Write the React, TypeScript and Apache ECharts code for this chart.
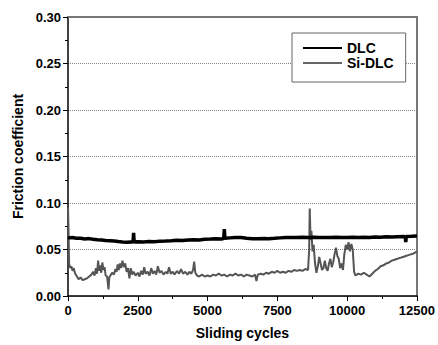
import React, { useEffect, useRef } from "react";
import * as echarts from "echarts";

const seriesNames = ["DLC", "Si-DLC"];
const xTicks = [0, 2500, 5000, 7500, 10000, 12500];
const yTicks = [0, 0.05, 0.1, 0.15, 0.2, 0.25, 0.3];

const dlcData: [number, number][] = [
  [0, 0.063], [50, 0.0625], [150, 0.063], [300, 0.0622], [450, 0.062], [600, 0.0614], [750, 0.0617],
  [900, 0.061], [1050, 0.0604], [1200, 0.0601], [1350, 0.0597], [1500, 0.0594], [1650, 0.0591],
  [1800, 0.0585], [1950, 0.058], [2100, 0.0577], [2250, 0.0581], [2330, 0.058], [2350, 0.068],
  [2370, 0.058], [2500, 0.0584], [2700, 0.058], [2900, 0.0587], [3100, 0.0584], [3300, 0.059],
  [3500, 0.0592], [3700, 0.0595], [3900, 0.06], [4100, 0.0598], [4300, 0.0602], [4500, 0.0605],
  [4700, 0.0603], [4900, 0.061], [5100, 0.0612], [5300, 0.0615], [5500, 0.0612], [5580, 0.062],
  [5600, 0.072], [5620, 0.062], [5800, 0.0625], [6000, 0.0628], [6200, 0.063], [6400, 0.0622],
  [6600, 0.0616], [6800, 0.0615], [7000, 0.0618], [7200, 0.0616], [7400, 0.062], [7600, 0.0625],
  [7800, 0.0628], [8000, 0.063], [8200, 0.0628], [8400, 0.0632], [8600, 0.063], [8800, 0.0633],
  [9000, 0.063], [9200, 0.0628], [9400, 0.063], [9600, 0.0632], [9800, 0.0628], [10000, 0.063],
  [10200, 0.0633], [10400, 0.063], [10600, 0.0632], [10800, 0.063], [11000, 0.0635], [11200, 0.0633],
  [11400, 0.0636], [11600, 0.0634], [11800, 0.0638], [12000, 0.064], [12080, 0.0638], [12100, 0.058],
  [12120, 0.064], [12300, 0.0642], [12500, 0.0645],
];

const siDlcData: [number, number][] = [
  [0, 0.095], [20, 0.07], [40, 0.035], [80, 0.03], [120, 0.032], [160, 0.027], [200, 0.03],
  [260, 0.024], [320, 0.021], [380, 0.018], [450, 0.02], [520, 0.017], [600, 0.018], [680, 0.019],
  [760, 0.021], [840, 0.023], [900, 0.026], [950, 0.022], [1000, 0.03], [1040, 0.024], [1080, 0.038],
  [1110, 0.027], [1150, 0.033], [1190, 0.025], [1230, 0.036], [1270, 0.028], [1310, 0.031],
  [1350, 0.022], [1400, 0.021], [1450, 0.007], [1480, 0.02], [1520, 0.022], [1580, 0.025],
  [1640, 0.023], [1700, 0.029], [1740, 0.026], [1780, 0.034], [1820, 0.028], [1860, 0.035],
  [1900, 0.03], [1950, 0.038], [2000, 0.031], [2050, 0.035], [2100, 0.026], [2150, 0.03],
  [2200, 0.019], [2250, 0.03], [2300, 0.023], [2350, 0.026], [2420, 0.022], [2500, 0.025],
  [2560, 0.021], [2620, 0.027], [2680, 0.023], [2730, 0.031], [2780, 0.024], [2850, 0.026],
  [2920, 0.022], [2980, 0.03], [3040, 0.024], [3100, 0.027], [3160, 0.023], [3220, 0.032],
  [3280, 0.025], [3350, 0.027], [3420, 0.023], [3500, 0.026], [3560, 0.024], [3620, 0.031],
  [3680, 0.024], [3750, 0.026], [3820, 0.023], [3900, 0.027], [3980, 0.024], [4050, 0.029],
  [4120, 0.024], [4200, 0.026], [4280, 0.023], [4350, 0.026], [4420, 0.024], [4480, 0.028],
  [4520, 0.037], [4560, 0.025], [4620, 0.022], [4700, 0.021], [4800, 0.023], [4900, 0.021],
  [5000, 0.022], [5100, 0.021], [5200, 0.023], [5300, 0.022], [5400, 0.024], [5500, 0.022],
  [5600, 0.023], [5700, 0.021], [5800, 0.023], [5900, 0.022], [6000, 0.024], [6100, 0.022],
  [6200, 0.023], [6300, 0.021], [6400, 0.023], [6500, 0.022], [6600, 0.021], [6700, 0.023],
  [6750, 0.016], [6800, 0.023], [6900, 0.024], [7000, 0.023], [7100, 0.025], [7200, 0.024],
  [7300, 0.026], [7400, 0.025], [7500, 0.027], [7600, 0.025], [7700, 0.026], [7800, 0.025],
  [7900, 0.027], [8000, 0.026], [8100, 0.028], [8200, 0.027], [8300, 0.028], [8400, 0.027],
  [8500, 0.029], [8600, 0.028], [8640, 0.05], [8660, 0.094], [8690, 0.06], [8720, 0.07],
  [8760, 0.048], [8800, 0.055], [8850, 0.035], [8900, 0.025], [8950, 0.032], [9000, 0.042],
  [9050, 0.035], [9100, 0.028], [9150, 0.03], [9200, 0.038], [9250, 0.03], [9300, 0.027],
  [9350, 0.035], [9400, 0.04], [9450, 0.031], [9500, 0.036], [9550, 0.045], [9600, 0.052],
  [9650, 0.043], [9700, 0.04], [9750, 0.03], [9800, 0.035], [9850, 0.028], [9900, 0.045],
  [9950, 0.055], [10000, 0.05], [10050, 0.058], [10100, 0.048], [10150, 0.056], [10200, 0.05],
  [10250, 0.026], [10300, 0.022], [10400, 0.024], [10500, 0.023], [10600, 0.025], [10700, 0.023],
  [10800, 0.021], [10900, 0.024], [11000, 0.027], [11100, 0.029], [11200, 0.032], [11300, 0.033],
  [11400, 0.035], [11500, 0.036], [11600, 0.038], [11700, 0.039], [11800, 0.04], [11900, 0.041],
  [12000, 0.042], [12100, 0.043], [12200, 0.044], [12300, 0.045], [12400, 0.046], [12500, 0.048],
];

const FONT = "'Liberation Sans', Arial, sans-serif";

export default function App() {
  const ref = useRef<HTMLDivElement>(null);
  useEffect(() => {
    if (!ref.current) return;
    const chart = echarts.init(ref.current, undefined, { renderer: "svg" });
    const labelStyle = { color: "#000", fontWeight: "bold" as const, fontSize: 13, fontFamily: FONT };
    chart.setOption({
      animation: false,
      backgroundColor: "#fff",
      grid: { left: 68, right: 20, top: 17, bottom: 43, containLabel: false },
      legend: {
        left: 292,
        top: 33,
        orient: "vertical",
        backgroundColor: "#fff",
        borderColor: "#666",
        borderWidth: 1,
        borderRadius: 0,
        padding: [8, 12, 12, 11],
        itemGap: 1,
        itemWidth: 39,
        itemHeight: 2,
        textStyle: { color: "#000", fontWeight: "bold", fontSize: 14, fontFamily: FONT, lineHeight: 14 },
        data: [
          { name: seriesNames[0], icon: "rect", itemStyle: { color: "#000" } },
          { name: seriesNames[1], icon: "rect", itemStyle: { color: "#666" } },
        ],
      },
      xAxis: [
        {
          type: "value",
          min: xTicks[0],
          max: xTicks[xTicks.length - 1],
          interval: 2500,
          name: "Sliding cycles",
          nameLocation: "middle",
          nameGap: 30,
          nameTextStyle: { color: "#000", fontWeight: "bold", fontSize: 14, fontFamily: FONT },
          axisLine: { show: true, onZero: false, lineStyle: { color: "#000", width: 1.5 } },
          axisTick: { show: true, inside: false, length: 5, lineStyle: { color: "#000", width: 1 } },
          minorTick: { show: true, splitNumber: 2, length: 3, lineStyle: { color: "#000", width: 1 } },
          axisLabel: { ...labelStyle, margin: 8, formatter: (v: number) => String(v) },
          splitLine: { show: false },
        },
        {
          type: "value",
          position: "top",
          min: xTicks[0],
          max: xTicks[xTicks.length - 1],
          axisLine: { show: true, onZero: false, lineStyle: { color: "#777", width: 2 } },
          axisTick: { show: false },
          axisLabel: { show: false },
          splitLine: { show: false },
        },
      ],
      yAxis: [
        {
          type: "value",
          min: yTicks[0],
          max: yTicks[yTicks.length - 1],
          interval: 0.05,
          name: "Friction coefficient",
          nameLocation: "middle",
          nameGap: 42,
          nameTextStyle: { color: "#000", fontWeight: "bold", fontSize: 14, fontFamily: FONT },
          axisLine: { show: true, onZero: false, lineStyle: { color: "#000", width: 1.5 } },
          axisTick: { show: true, inside: false, length: 5, lineStyle: { color: "#000", width: 1 } },
          minorTick: { show: true, splitNumber: 2, length: 3, lineStyle: { color: "#000", width: 1 } },
          axisLabel: { ...labelStyle, margin: 7, formatter: (v: number) => v.toFixed(2) },
          splitLine: { show: true, lineStyle: { color: "#888", type: [1, 1], width: 1 } },
        },
        {
          type: "value",
          position: "right",
          min: yTicks[0],
          max: yTicks[yTicks.length - 1],
          axisLine: { show: true, onZero: false, lineStyle: { color: "#777", width: 2 } },
          axisTick: { show: false },
          axisLabel: { show: false },
          splitLine: { show: false },
        },
      ],
      series: [
        {
          name: seriesNames[0],
          type: "line",
          data: dlcData,
          symbol: "none",
          lineStyle: { color: "#000", width: 3.5 },
          itemStyle: { color: "#000" },
          z: 3,
        },
        {
          name: seriesNames[1],
          type: "line",
          data: siDlcData,
          symbol: "none",
          lineStyle: { color: "#555", width: 2 },
          itemStyle: { color: "#555" },
          z: 2,
        },
      ],
    });
    return () => chart.dispose();
  }, []);
  return <div ref={ref} style={{ width: 438, height: 345, position: "absolute", left: 0, top: 0 }} />;
}
